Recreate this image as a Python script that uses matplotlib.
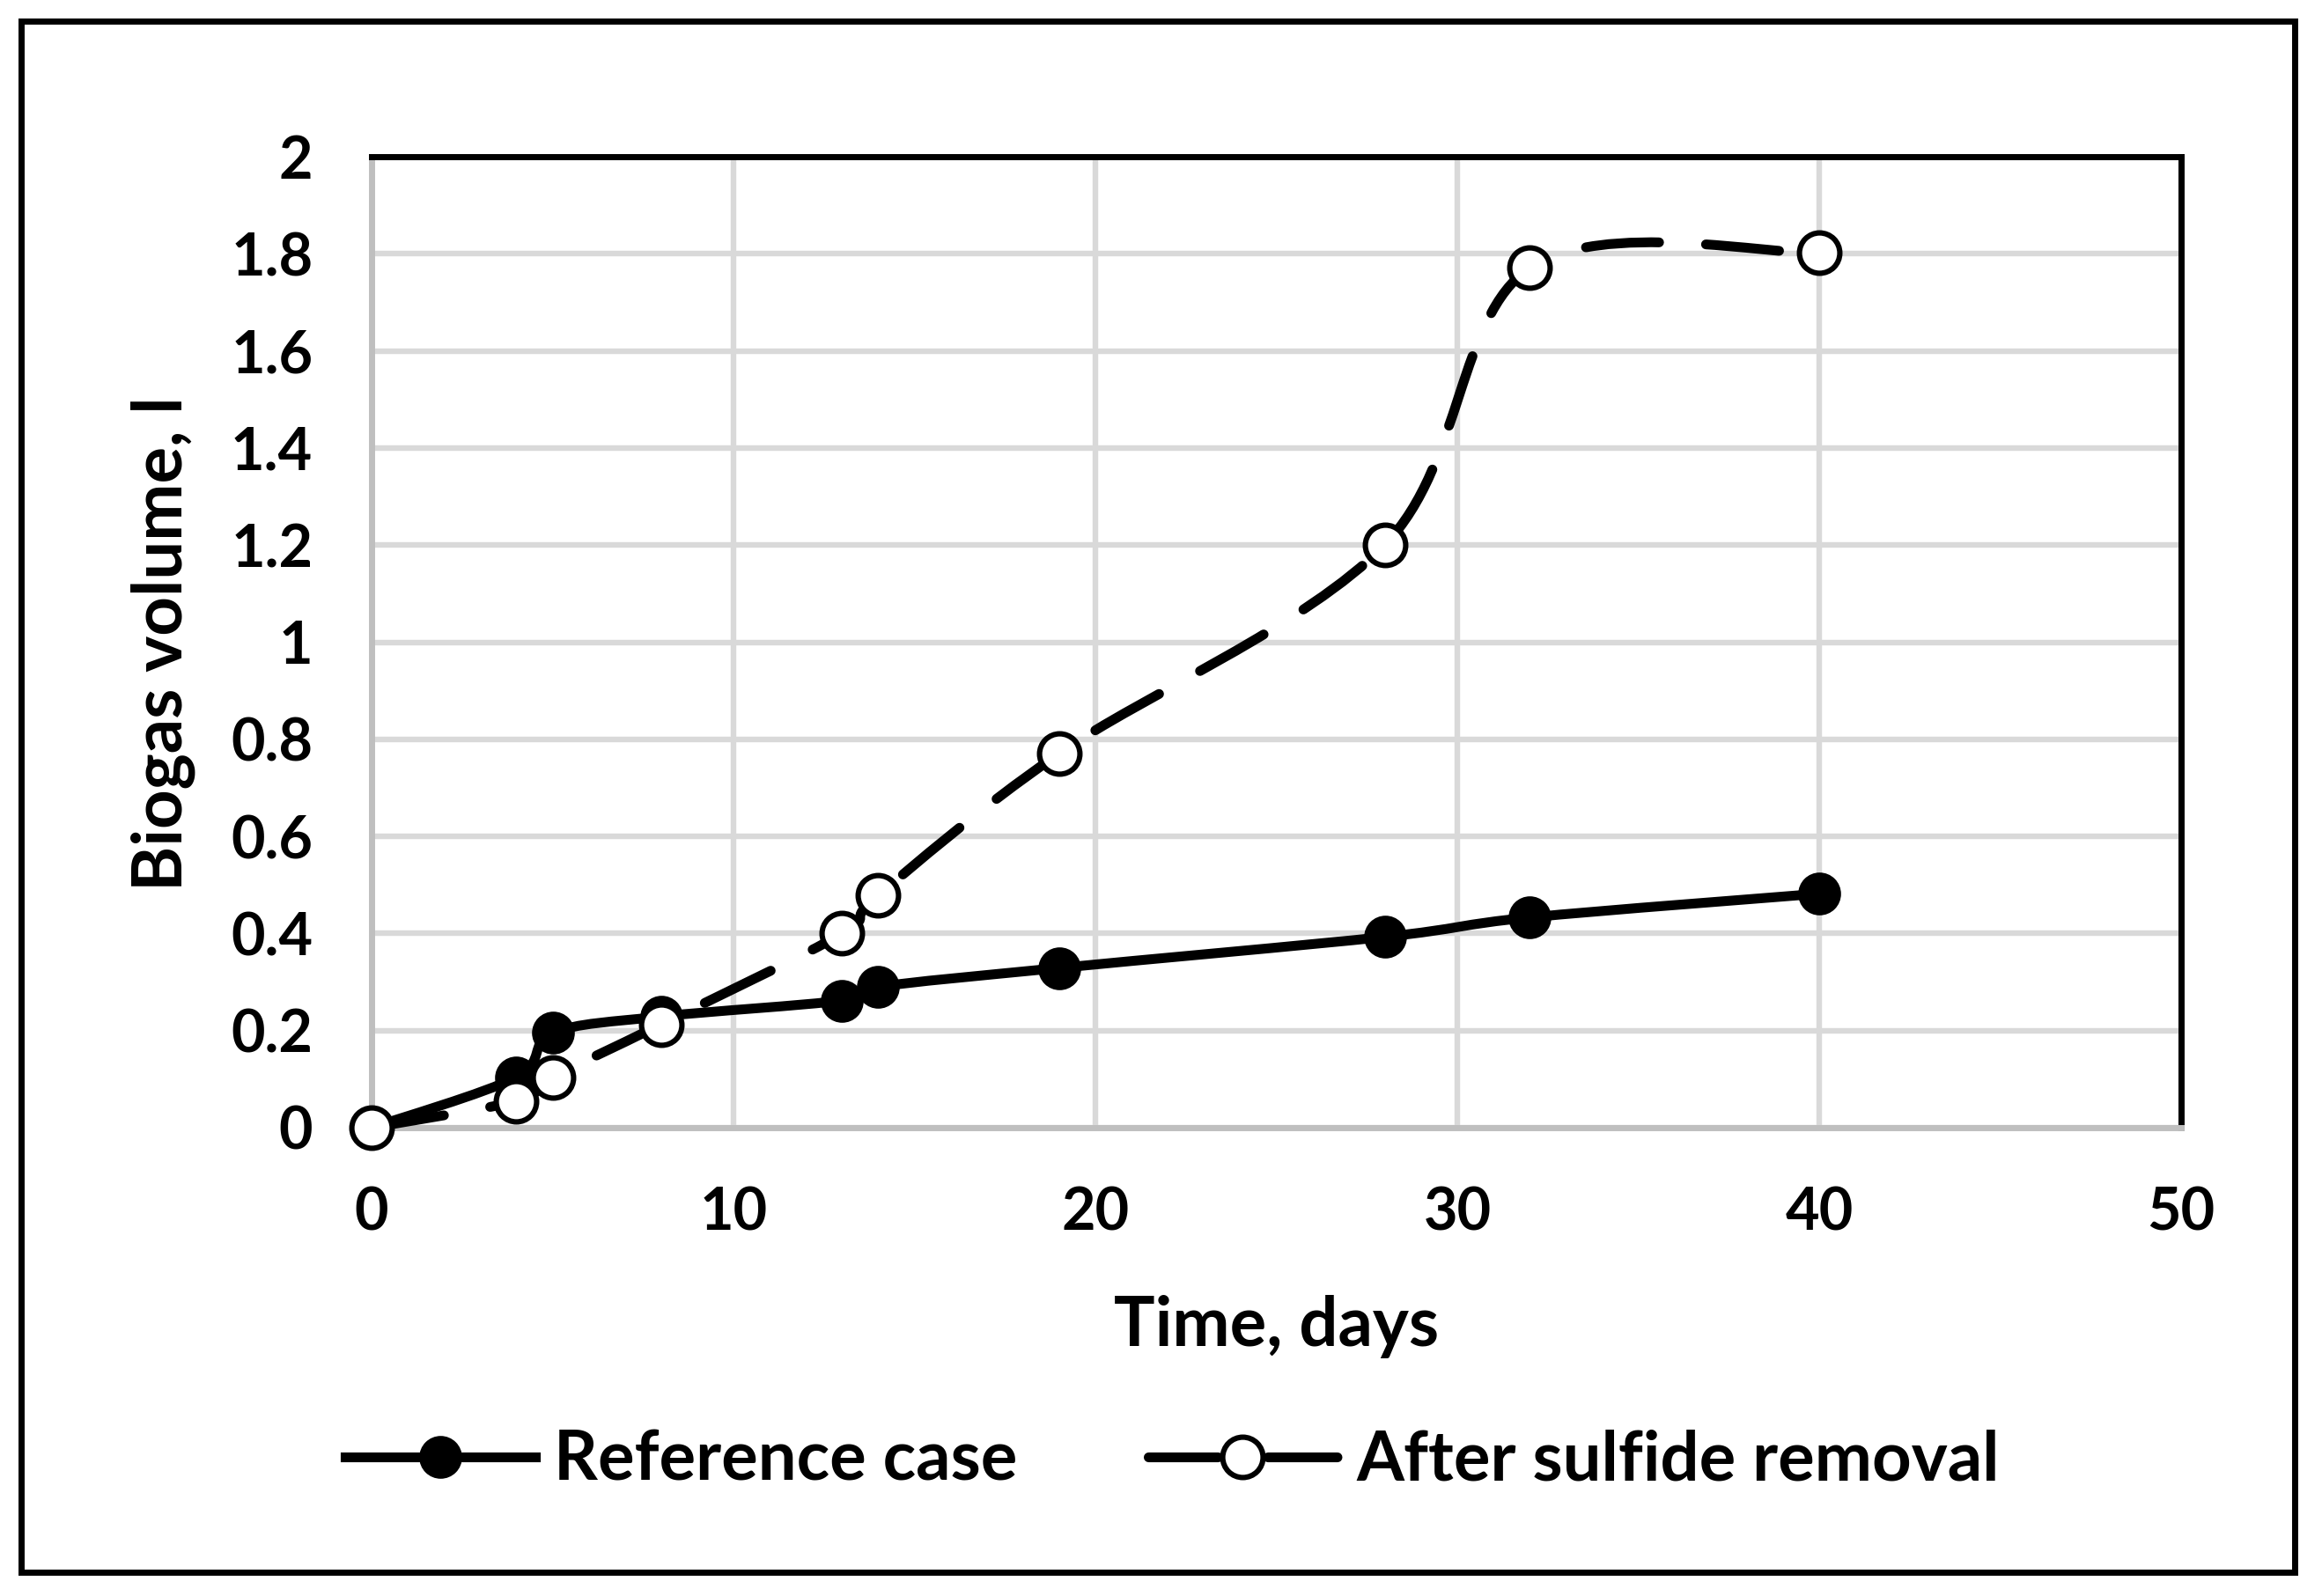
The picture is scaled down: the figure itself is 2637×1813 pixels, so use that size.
import numpy as np
import matplotlib
matplotlib.use("Agg")
import matplotlib.pyplot as plt
from matplotlib.path import Path
from matplotlib.patches import PathPatch, Rectangle
from matplotlib.lines import Line2D

# data
days = [0, 4, 5, 8, 13, 14, 19, 28, 32, 40]
reference_case = [0, 0.104, 0.195, 0.229, 0.262, 0.29, 0.329, 0.393, 0.433, 0.482]
after_removal = [0, 0.055, 0.104, 0.213, 0.40, 0.479, 0.771, 1.201, 1.771, 1.802]
x_ticks = [0, 10, 20, 30, 40, 50]
y_ticks = [0, 0.2, 0.4, 0.6, 0.8, 1.0, 1.2, 1.4, 1.6, 1.8, 2.0]
y_tick_labels = ["0", "0.2", "0.4", "0.6", "0.8", "1", "1.2", "1.4", "1.6", "1.8", "2"]

plt.rcParams['font.family'] = ['Lato', 'DejaVu Sans']
plt.rcParams['font.weight'] = 'bold'


def smooth_path(x, y):
    # excel style smoothed line: bezier segments through every point
    pts = np.column_stack([x, y]).astype(float)
    n = len(pts)
    verts = [pts[0]]
    codes = [Path.MOVETO]
    for i in range(n - 1):
        p0 = pts[max(i - 1, 0)]
        p1 = pts[i]
        p2 = pts[i + 1]
        p3 = pts[min(i + 2, n - 1)]
        verts += [p1 + (p2 - p0) / 6, p2 - (p3 - p1) / 6, p2]
        codes += [Path.CURVE4] * 3
    return Path(verts, codes)


W, H = 2637, 1813
dpi = 200
fig = plt.figure(figsize=(W / dpi, H / dpi), dpi=dpi)
fig.add_artist(Rectangle((24 / W, 1 - 1786 / H), (2606 - 24) / W, (1786 - 24) / H,
                         transform=fig.transFigure, fill=False, edgecolor='black',
                         linewidth=2.5, joinstyle='miter'))

ax = fig.add_axes([422 / W, 1 - 1281 / H, (2477 - 422) / W, (1281 - 178) / H])
ax.set_xlim(0, 50)
ax.set_ylim(0, 2)
ax.set_xticks(x_ticks)
ax.set_yticks(y_ticks)
ax.set_yticklabels(y_tick_labels)
ax.tick_params(length=0, labelsize=24)
ax.tick_params(axis='y', pad=24)
ax.tick_params(axis='x', pad=24)
ax.grid(True, color='#D9D9D9', linewidth=2.3)
ax.set_axisbelow(True)
for side in ['top', 'right']:
    ax.spines[side].set_color('black')
    ax.spines[side].set_linewidth(2.5)
for side in ['left', 'bottom']:
    ax.spines[side].set_color('#BFBFBF')
    ax.spines[side].set_linewidth(2.5)

lw = 4.0
fs = 28
dash = (7.5, 4.8)

ax.add_patch(PathPatch(smooth_path(days, reference_case), fill=False, edgecolor='black',
                       linewidth=lw, capstyle='round', zorder=3, clip_on=False))
ax.plot(days, reference_case, linestyle='none', marker='o', markersize=16.5,
        markerfacecolor='black', markeredgecolor='black', zorder=4, clip_on=False)

ax.add_patch(PathPatch(smooth_path(days, after_removal), fill=False, edgecolor='black',
                       linewidth=lw, linestyle=(0, dash), capstyle='round', zorder=5,
                       clip_on=False))
ax.plot(days, after_removal, linestyle='none', marker='o', markersize=16.5,
        markerfacecolor='white', markeredgecolor='black', markeredgewidth=2.2, zorder=6,
        clip_on=False)

ax.set_xlabel("Time, days", fontsize=fs, fontweight='bold')
ax.xaxis.set_label_coords(0.5, -0.172)
fig.text(185 / W, 1 - 731 / H, "Biogas volume, l", rotation=90, fontsize=fs,
         fontweight='bold', ha='center', va='center')

handles = [
    Line2D([], [], color='black', linewidth=lw, marker='o', markersize=16.5,
           markerfacecolor='black', markeredgecolor='black'),
    Line2D([], [], color='black', linewidth=lw, linestyle=(0, (7.1, 5.1)), marker='o',
           markersize=16.5, markerfacecolor='white', markeredgecolor='black',
           markeredgewidth=2.2, dash_capstyle='round'),
]
fig.legend(handles, ["Reference case", "After sulfide removal"], loc='center',
           bbox_to_anchor=(0.505, 1 - 1660 / H), ncol=2, frameon=False, fontsize=fs,
           handlelength=2.77, handletextpad=0.28, columnspacing=1.9)

fig.savefig("out.png", dpi=dpi)
